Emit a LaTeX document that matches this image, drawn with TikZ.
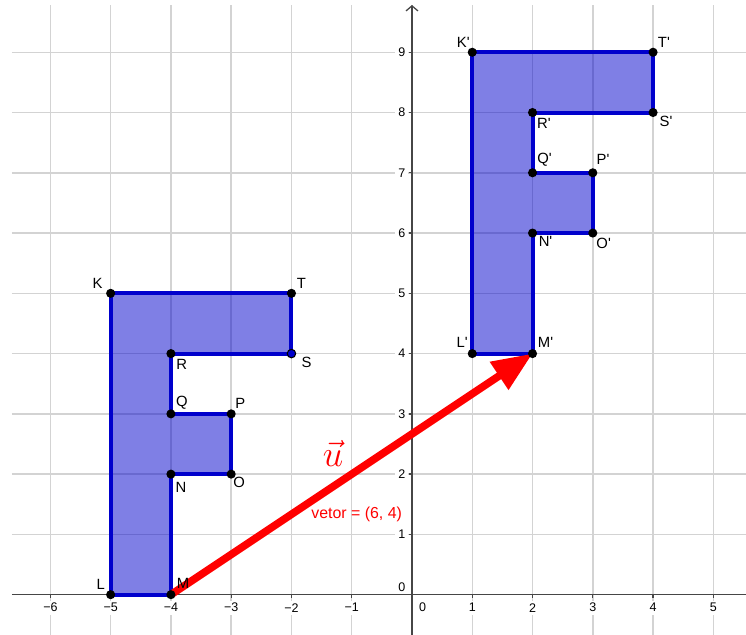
\documentclass[tikz,border=0pt]{standalone}
\usepackage{fontspec}
\setmainfont{Liberation Sans}[Ligatures=TeXOff]
\usetikzlibrary{arrows.meta}
\definecolor{gridc}{RGB}{211,211,211}
\definecolor{axisc}{RGB}{70,70,70}
\definecolor{polyc}{RGB}{0,0,204}
\definecolor{vecc}{RGB}{255,0,0}
\begin{document}
\begin{tikzpicture}[x=1cm,y=1cm,
  gridline/.style={draw=gridc,line width=0.7pt},
  axisline/.style={draw=axisc,line width=0.6pt},
  tickmark/.style={draw=axisc,line width=0.6pt},
  ticklab/.style={font=\fontsize{5.9}{7}\selectfont,fill=white,inner sep=1.3pt},
  ptlab/.style={font=\fontsize{7}{8.4}\selectfont,inner sep=0pt},
  fpoly/.style={draw=polyc,fill=polyc,fill opacity=0.5,line width=1.9pt,line join=miter},
  dot/.style={circle,fill=black,inner sep=0pt,minimum size=4.3pt},
  hollowdot/.style={circle,fill=polyc,draw=black,line width=0.5pt,inner sep=0pt,minimum size=4pt},
  vecarrow/.style={draw=vecc,line width=3.6pt,-{Triangle[length=19pt,width=15pt]}},
  veclab/.style={text=vecc,inner sep=0pt},
]
\fill[white] (-6.836,-0.669) rectangle (5.542,9.867);
\useasboundingbox (-6.836,-0.669) rectangle (5.542,9.867);

% grid
\foreach \x in {-6,...,5} \draw[gridline] (\x,-0.669) -- (\x,9.784);
\foreach \y in {1,...,9} \draw[gridline] (-6.637,\y) -- (5.542,\y);

% axes
\coordinate (xs) at (-6.637,0);
\coordinate (xe) at (5.542,0);
\coordinate (ys) at (0,-0.669);
\coordinate (ye) at (0,9.784);
\draw[axisline] (xs) -- (xe);
\draw[axisline,-{Straight Barb[length=2.4pt,width=5.6pt]}] (ys) -- (ye);

% tick marks and labels
\foreach \x [count=\i] in {-6,...,-1} {
  \draw[tickmark] (\x,0) -- (\x,-0.05);
  \node[ticklab,name=xn\i] at (\x,-0.216) {−\the\numexpr-\x\relax};
}
\foreach \x [count=\i] in {1,...,5} {
  \draw[tickmark] (\x,0) -- (\x,-0.05);
  \node[ticklab,name=xp\i] at (\x,-0.216) {\x};
}
\foreach \y [count=\i] in {1,...,9} {
  \draw[tickmark] (0,\y) -- (-0.05,\y);
  \node[ticklab,anchor=east,name=yp\i] at (-0.06,\y) {\y};
}
\node[ticklab,name=x0] at (0.178,-0.216) {0};
\node[ticklab,name=y0] at (-0.17,0.128) {0};

% original figure F
\coordinate (K) at (-5,5);
\coordinate (T) at (-2,5);
\coordinate (S) at (-2,4);
\coordinate (R) at (-4,4);
\coordinate (Q) at (-4,3);
\coordinate (P) at (-3,3);
\coordinate (O) at (-3,2);
\coordinate (N) at (-4,2);
\coordinate (M) at (-4,0);
\coordinate (L) at (-5,0);
% image figure F'
\coordinate (Kp) at (1,9);
\coordinate (Tp) at (4,9);
\coordinate (Sp) at (4,8);
\coordinate (Rp) at (2,8);
\coordinate (Qp) at (2,7);
\coordinate (Pp) at (3,7);
\coordinate (Op) at (3,6);
\coordinate (Np) at (2,6);
\coordinate (Mp) at (2,4);
\coordinate (Lp) at (1,4);

\draw[fpoly] (K) -- (T) -- (S) -- (R) -- (Q) -- (P) -- (O) -- (N) -- (M) -- (L) -- cycle;
\draw[fpoly] (Kp) -- (Tp) -- (Sp) -- (Rp) -- (Qp) -- (Pp) -- (Op) -- (Np) -- (Mp) -- (Lp) -- cycle;

% vector
\draw[vecarrow] (M) -- (Mp);
\node[veclab,font=\fontsize{17}{20}\selectfont] (ulab) at (-1.311,2.351) {$\vec{u}$};
\node[veclab,font=\fontsize{7.5}{9}\selectfont] (vlab) at (-0.918,1.334) {vetor = (6, 4)};

% points
\foreach \p in {K,T,R,Q,P,O,N,M,L,Kp,Tp,Sp,Rp,Qp,Pp,Op,Np,Mp,Lp}
  \node[dot] (d\p) at (\p) {};
\node[hollowdot] (dS) at (S) {};

% point labels
\node[ptlab] (lK) at ([shift={(-0.216,0.166)}]K) {K};
\node[ptlab] (lT) at ([shift={(0.166,0.166)}]T) {T};
\node[ptlab] (lR) at ([shift={(0.18,-0.18)}]R) {R};
\node[ptlab] (lS) at ([shift={(0.25,-0.15)}]S) {S};
\node[ptlab] (lQ) at ([shift={(0.18,0.18)}]Q) {Q};
\node[ptlab] (lP) at ([shift={(0.15,0.18)}]P) {P};
\node[ptlab] (lN) at ([shift={(0.166,-0.216)}]N) {N};
\node[ptlab] (lO) at ([shift={(0.13,-0.13)}]O) {O};
\node[ptlab] (lL) at ([shift={(-0.166,0.166)}]L) {L};
\node[ptlab] (lM) at ([shift={(0.2,0.18)}]M) {M};
\node[ptlab] (lKp) at ([shift={(-0.15,0.166)}]Kp) {K'};
\node[ptlab] (lTp) at ([shift={(0.18,0.166)}]Tp) {T'};
\node[ptlab] (lRp) at ([shift={(0.19,-0.18)}]Rp) {R'};
\node[ptlab] (lSp) at ([shift={(0.216,-0.15)}]Sp) {S'};
\node[ptlab] (lQp) at ([shift={(0.2,0.216)}]Qp) {Q'};
\node[ptlab] (lPp) at ([shift={(0.17,0.216)}]Pp) {P'};
\node[ptlab] (lNp) at ([shift={(0.216,-0.14)}]Np) {N'};
\node[ptlab] (lOp) at ([shift={(0.18,-0.166)}]Op) {O'};
\node[ptlab] (lLp) at ([shift={(-0.166,0.18)}]Lp) {L'};
\node[ptlab] (lMp) at ([shift={(0.216,0.18)}]Mp) {M'};
\end{tikzpicture}
\end{document}
